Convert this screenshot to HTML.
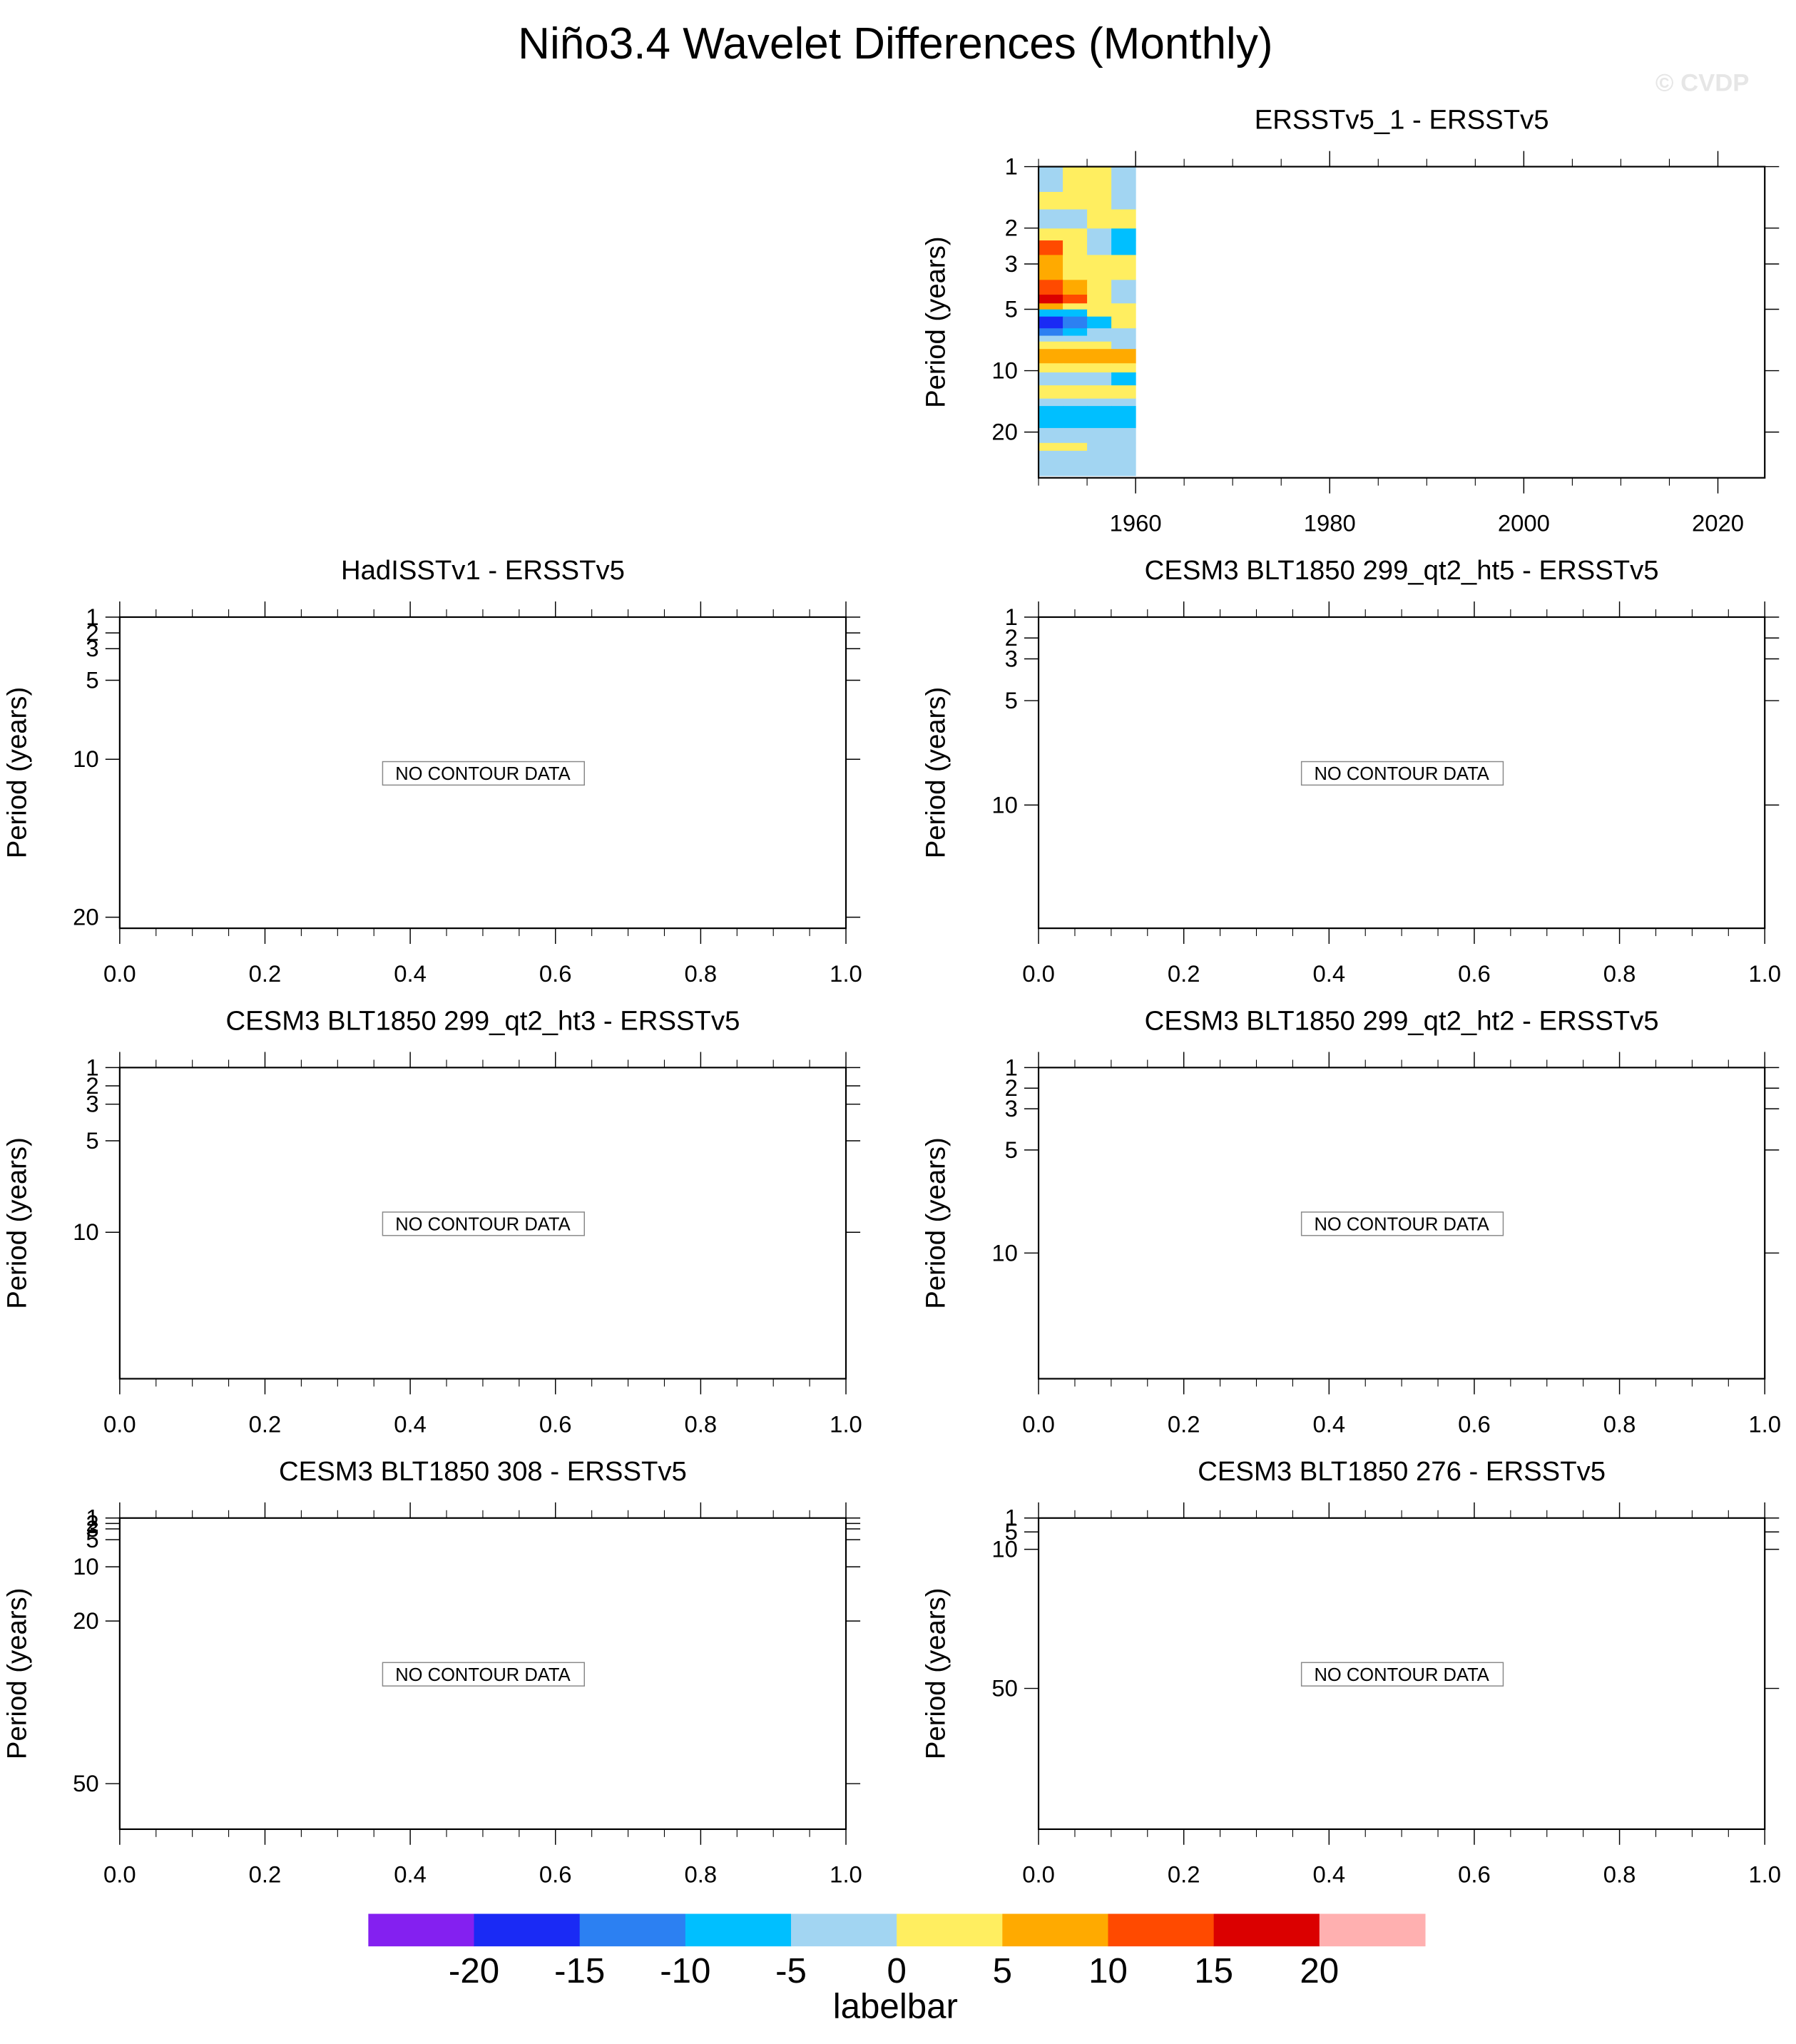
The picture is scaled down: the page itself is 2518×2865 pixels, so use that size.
<!DOCTYPE html>
<html><head><meta charset="utf-8"><style>
html,body{margin:0;padding:0;background:#fff;}
svg{display:block;font-family:"Liberation Sans",Arial,sans-serif;}
</style></head><body>
<svg id="fig" width="2518" height="2865" viewBox="0 0 1380 1570" preserveAspectRatio="none" xmlns="http://www.w3.org/2000/svg">
<text x="688" y="45" font-size="34" text-anchor="middle">Niño3.4 Wavelet Differences (Monthly)</text>
<text x="1308" y="70" font-size="19" font-weight="bold" fill="#e6e6e6" text-anchor="middle">© CVDP</text>
</svg>
<script>
// ---- chart data ----
const levelColors = ["#8420f0","#1a2af5","#2c80f2","#00bfff","#a2d5f2","#ffee60","#ffaa00","#ff4a00","#db0000","#ffb0b0"];
const levelLabels = ["-20","-15","-10","-5","0","5","10","15","20"];
const heatYears = [1950, 1952.5, 1955, 1957.5, 1960];
const heatPeriodEdges = [1,1.33,1.62,2.01,2.30,2.71,3.59,4.24,4.68,5.01,5.43,6.2,6.74,7.2,7.83,9.2,10.2,11.8,13.7,14.9,19.1,22.6,24.7,32.7];
const heatValues = [
 [-2.5,2.5,2.5,-2.5],
 [2.5,2.5,2.5,-2.5],
 [-2.5,-2.5,2.5,2.5],
 [2.5,2.5,-2.5,-7.5],
 [12.5,2.5,-2.5,-7.5],
 [7.5,2.5,2.5,2.5],
 [12.5,7.5,2.5,-2.5],
 [17.5,12.5,2.5,-2.5],
 [7.5,2.5,2.5,2.5],
 [-7.5,-7.5,2.5,2.5],
 [-17.5,-12.5,-7.5,2.5],
 [-12.5,-7.5,-2.5,-2.5],
 [-2.5,-2.5,-2.5,-2.5],
 [2.5,2.5,2.5,-2.5],
 [7.5,7.5,7.5,7.5],
 [2.5,2.5,2.5,2.5],
 [-2.5,-2.5,-2.5,-7.5],
 [2.5,2.5,2.5,2.5],
 [-2.5,-2.5,-2.5,-2.5],
 [-7.5,-7.5,-7.5,-7.5],
 [-2.5,-2.5,-2.5,-2.5],
 [2.5,2.5,-2.5,-2.5],
 [-2.5,-2.5,-2.5,-2.5]
];
const panelTitles = ["ERSSTv5_1 - ERSSTv5","HadISSTv1 - ERSSTv5","CESM3 BLT1850 299_qt2_ht5 - ERSSTv5","CESM3 BLT1850 299_qt2_ht3 - ERSSTv5","CESM3 BLT1850 299_qt2_ht2 - ERSSTv5","CESM3 BLT1850 308 - ERSSTv5","CESM3 BLT1850 276 - ERSSTv5"];
const yTickSets = [[1,2,3,5,10,20],[1,2,3,5,10,20],[1,2,3,5,10],[1,2,3,5,10],[1,2,3,5,10],[1,2,3,5,10,20,50],[1,5,10,50]];
const yMax = [33.5,20.7,15.9,18,16.1,58.4,90.5];
const yLog = [true,false,false,false,false,false,false];
const yearTicks = [1960,1980,2000,2020];
const fracTicks = ["0.0","0.2","0.4","0.6","0.8","1.0"];

const NS="http://www.w3.org/2000/svg";
const svg=document.getElementById('fig');
function mk(tag,attrs,parent){const e=document.createElementNS(NS,tag);for(const k in attrs)e.setAttribute(k,attrs[k]);(parent||svg).appendChild(e);return e;}
function colorFor(v){const i=Math.floor((v+25)/5);return levelColors[Math.max(0,Math.min(9,i))];}

const panels=[
 {x:798,y:128},{x:92,y:474},{x:798,y:474},{x:92,y:820},{x:798,y:820},{x:92,y:1166},{x:798,y:1166}
];
const W=558,H=239;
panels.forEach((p,i)=>{
 const g=mk('g',{});
 
 
 const yScale = yLog[i] ? (v=>p.y+H*Math.log(v)/Math.log(yMax[i])) : (v=>p.y+H*(v-1)/(yMax[i]-1));
 let xScale;
 if(i===0){xScale=t=>p.x+W*(t-1950)/(2024.83-1950);} else {xScale=t=>p.x+W*t;}
 if(i===0){
  for(let r=0;r<heatValues.length;r++){
   for(let c=0;c<heatValues[r].length;c++){
    const x0=xScale(heatYears[c]),x1=xScale(heatYears[c+1]);
    const y0=yScale(heatPeriodEdges[r]),y1=yScale(heatPeriodEdges[r+1]);
    const cell=mk('rect',{x:x0,y:y0,width:x1-x0+0.3,height:y1-y0+0.3,fill:colorFor(heatValues[r][c])},g);
    
    
   }
  }
 }
 const t=mk('text',{x:p.x+W/2,y:p.y-29,'font-size':21,'text-anchor':'middle'},g);
 t.textContent=panelTitles[i];
 
 
 const fr=mk('rect',{x:p.x,y:p.y,width:W,height:H,fill:'none',stroke:'#000','stroke-width':1.2},g);
 
 
 const majors=[],minors=[];
 if(i===0){for(let yv=1950;yv<=2024;yv+=5){(yv%20===0?majors:minors).push(yv);}}
 else{for(let k=0;k<=20;k++){(k%4===0?majors:minors).push(k/20);}}
 majors.forEach(v=>{const x=xScale(v);mk('line',{x1:x,x2:x,y1:p.y,y2:p.y-12,stroke:'#000','stroke-width':0.8},g);mk('line',{x1:x,x2:x,y1:p.y+H,y2:p.y+H+12,stroke:'#000','stroke-width':0.8},g);});
 minors.forEach(v=>{const x=xScale(v);mk('line',{x1:x,x2:x,y1:p.y,y2:p.y-6,stroke:'#000','stroke-width':0.6},g);mk('line',{x1:x,x2:x,y1:p.y+H,y2:p.y+H+6,stroke:'#000','stroke-width':0.6},g);});
 const labs = i===0 ? yearTicks.map(v=>[v,String(v)]) : fracTicks.map(s=>[parseFloat(s),s]);
 labs.forEach(([v,s])=>{const tx=mk('text',{x:xScale(v),y:p.y+H+41,'font-size':18,'text-anchor':'middle'},g);tx.textContent=s;
  
  });
 yTickSets[i].forEach(v=>{const y=yScale(v);
  mk('line',{x1:p.x,x2:p.x-11,y1:y,y2:y,stroke:'#000','stroke-width':0.8},g);
  mk('line',{x1:p.x+W,x2:p.x+W+11,y1:y,y2:y,stroke:'#000','stroke-width':0.8},g);
  const tl=mk('text',{x:p.x-16,y:y+6,'font-size':18,'text-anchor':'end'},g);tl.textContent=String(v);
  
  });
 const cx=p.x-72,cy=p.y+H/2;
 const yt=mk('text',{x:cx,y:cy,'font-size':21,'text-anchor':'middle',transform:`rotate(-90 ${cx} ${cy})`},g);
 yt.textContent='Period (years)';
 
 
 if(i>0){
  const bx=p.x+W/2-77,by=p.y+111;
  const nb=mk('rect',{x:bx,y:by,width:155,height:18,fill:'#fff',stroke:'#888','stroke-width':0.8},g);
  
  
  const nt=mk('text',{x:p.x+W/2,y:by+14,'font-size':14,'text-anchor':'middle'},g);
  nt.textContent='NO CONTOUR DATA';
  
  
 }
});
const lb=mk('g',{});


const lbX=283,lbW=812/levelColors.length;
levelColors.forEach((c,k)=>{const r=mk('rect',{x:lbX+k*lbW,y:1470,width:lbW+0.3,height:25,fill:c},lb);
 
 });
levelLabels.forEach((s,k)=>{const tx=mk('text',{x:lbX+(k+1)*lbW,y:1523,'font-size':27,'text-anchor':'middle'},lb);tx.textContent=s;
 
 });
const lt=mk('text',{x:688,y:1550,'font-size':27,'text-anchor':'middle'},lb);
lt.textContent='labelbar';


</script>
</body></html>
